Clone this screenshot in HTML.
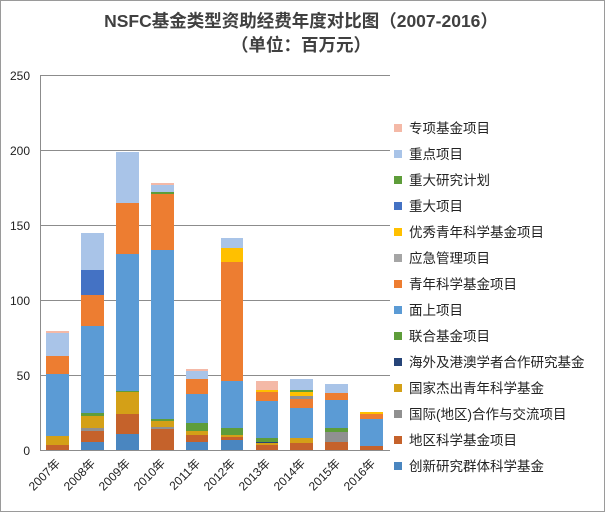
<!DOCTYPE html><html><head><meta charset="utf-8"><style>
body{margin:0;background:#fff}
svg{display:block;font-family:"Liberation Sans","Noto Sans CJK SC",sans-serif}
</style></head><body>
<svg width="605" height="512" xmlns="http://www.w3.org/2000/svg">
<rect x="0.5" y="0.5" width="604" height="511" fill="#fff" stroke="#9a9a9a"/>
<text x="301" y="27" text-anchor="middle" font-size="17.5" font-weight="bold" fill="#404040">NSFC基金类型资助经费年度对比图（2007-2016）</text>
<text x="301" y="51" text-anchor="middle" font-size="17.5" font-weight="bold" fill="#404040">（单位：百万元）</text>
<g stroke="#8c8c8c" stroke-width="1">
<line x1="40" y1="75.5" x2="390" y2="75.5"/><line x1="40" y1="150.5" x2="390" y2="150.5"/>
<line x1="40" y1="225.5" x2="390" y2="225.5"/><line x1="40" y1="300.5" x2="390" y2="300.5"/>
<line x1="40" y1="375.5" x2="390" y2="375.5"/><line x1="40" y1="450.5" x2="390" y2="450.5"/>
<line x1="40.5" y1="75" x2="40.5" y2="450"/>
</g>
<g font-size="12" fill="#222" text-anchor="end">
<text x="30" y="80">250</text><text x="30" y="155">200</text><text x="30" y="230">150</text>
<text x="30" y="305">100</text><text x="30" y="380">50</text><text x="30" y="455">0</text>
</g>
<g id="bars">
<rect x="46" y="445" width="23" height="5" fill="#c5622b"/>
<rect x="46" y="436" width="23" height="9" fill="#d4a017"/>
<rect x="46" y="374" width="23" height="62" fill="#5b9bd5"/>
<rect x="46" y="356" width="23" height="18" fill="#ed7d31"/>
<rect x="46" y="333" width="23" height="23" fill="#a9c4e8"/>
<rect x="46" y="331" width="23" height="2" fill="#f4b9a7"/>
<rect x="81" y="442" width="23" height="8" fill="#4a86c0"/>
<rect x="81" y="431" width="23" height="11" fill="#c5622b"/>
<rect x="81" y="428" width="23" height="3" fill="#909090"/>
<rect x="81" y="416" width="23" height="12" fill="#d4a017"/>
<rect x="81" y="413" width="23" height="3" fill="#5e9d3a"/>
<rect x="81" y="326" width="23" height="87" fill="#5b9bd5"/>
<rect x="81" y="295" width="23" height="31" fill="#ed7d31"/>
<rect x="81" y="270" width="23" height="25" fill="#4472c4"/>
<rect x="81" y="233" width="23" height="37" fill="#a9c4e8"/>
<rect x="116" y="434" width="23" height="16" fill="#4a86c0"/>
<rect x="116" y="414" width="23" height="20" fill="#c5622b"/>
<rect x="116" y="392" width="23" height="22" fill="#d4a017"/>
<rect x="116" y="391" width="23" height="1" fill="#5e9d3a"/>
<rect x="116" y="254" width="23" height="137" fill="#5b9bd5"/>
<rect x="116" y="203" width="23" height="51" fill="#ed7d31"/>
<rect x="116" y="152" width="23" height="51" fill="#a9c4e8"/>
<rect x="151" y="429" width="23" height="21" fill="#c5622b"/>
<rect x="151" y="427" width="23" height="2" fill="#909090"/>
<rect x="151" y="421" width="23" height="6" fill="#d4a017"/>
<rect x="151" y="419" width="23" height="2" fill="#5e9d3a"/>
<rect x="151" y="250" width="23" height="169" fill="#5b9bd5"/>
<rect x="151" y="194" width="23" height="56" fill="#ed7d31"/>
<rect x="151" y="192" width="23" height="2" fill="#5e9d3a"/>
<rect x="151" y="185" width="23" height="7" fill="#a9c4e8"/>
<rect x="151" y="183" width="23" height="2" fill="#f4b9a7"/>
<rect x="186" y="442" width="22" height="8" fill="#4a86c0"/>
<rect x="186" y="435" width="22" height="7" fill="#c5622b"/>
<rect x="186" y="431" width="22" height="4" fill="#d4a017"/>
<rect x="186" y="423" width="22" height="8" fill="#5e9d3a"/>
<rect x="186" y="394" width="22" height="29" fill="#5b9bd5"/>
<rect x="186" y="379" width="22" height="15" fill="#ed7d31"/>
<rect x="186" y="371" width="22" height="8" fill="#a9c4e8"/>
<rect x="186" y="369" width="22" height="2" fill="#f4b9a7"/>
<rect x="221" y="440" width="22" height="10" fill="#4a86c0"/>
<rect x="221" y="437" width="22" height="3" fill="#c5622b"/>
<rect x="221" y="435" width="22" height="2" fill="#d4a017"/>
<rect x="221" y="428" width="22" height="7" fill="#5e9d3a"/>
<rect x="221" y="381" width="22" height="47" fill="#5b9bd5"/>
<rect x="221" y="262" width="22" height="119" fill="#ed7d31"/>
<rect x="221" y="248" width="22" height="14" fill="#ffc000"/>
<rect x="221" y="238" width="22" height="10" fill="#a9c4e8"/>
<rect x="256" y="445" width="22" height="5" fill="#c5622b"/>
<rect x="256" y="443" width="22" height="2" fill="#d4a017"/>
<rect x="256" y="442" width="22" height="1" fill="#264478"/>
<rect x="256" y="438" width="22" height="4" fill="#5e9d3a"/>
<rect x="256" y="401" width="22" height="37" fill="#5b9bd5"/>
<rect x="256" y="392" width="22" height="9" fill="#ed7d31"/>
<rect x="256" y="390" width="22" height="2" fill="#ffc000"/>
<rect x="256" y="381" width="22" height="9" fill="#f4b9a7"/>
<rect x="290" y="443" width="23" height="7" fill="#c5622b"/>
<rect x="290" y="438" width="23" height="5" fill="#d4a017"/>
<rect x="290" y="408" width="23" height="30" fill="#5b9bd5"/>
<rect x="290" y="399" width="23" height="9" fill="#ed7d31"/>
<rect x="290" y="396" width="23" height="3" fill="#909090"/>
<rect x="290" y="392" width="23" height="4" fill="#ffc000"/>
<rect x="290" y="390" width="23" height="2" fill="#5e9d3a"/>
<rect x="290" y="379" width="23" height="11" fill="#a9c4e8"/>
<rect x="325" y="442" width="23" height="8" fill="#c5622b"/>
<rect x="325" y="432" width="23" height="10" fill="#909090"/>
<rect x="325" y="428" width="23" height="4" fill="#5e9d3a"/>
<rect x="325" y="400" width="23" height="28" fill="#5b9bd5"/>
<rect x="325" y="393" width="23" height="7" fill="#ed7d31"/>
<rect x="325" y="384" width="23" height="9" fill="#a9c4e8"/>
<rect x="360" y="446" width="23" height="4" fill="#c5622b"/>
<rect x="360" y="419" width="23" height="27" fill="#5b9bd5"/>
<rect x="360" y="414" width="23" height="5" fill="#ed7d31"/>
<rect x="360" y="412" width="23" height="2" fill="#ffc000"/>
</g>
<g font-size="12" fill="#222" text-anchor="end">
<text transform="translate(61,464) rotate(-45)">2007年</text>
<text transform="translate(96,464) rotate(-45)">2008年</text>
<text transform="translate(131,464) rotate(-45)">2009年</text>
<text transform="translate(166,464) rotate(-45)">2010年</text>
<text transform="translate(201,464) rotate(-45)">2011年</text>
<text transform="translate(236,464) rotate(-45)">2012年</text>
<text transform="translate(271,464) rotate(-45)">2013年</text>
<text transform="translate(306,464) rotate(-45)">2014年</text>
<text transform="translate(341,464) rotate(-45)">2015年</text>
<text transform="translate(376,464) rotate(-45)">2016年</text>
</g>
<g font-size="13.5" fill="#222">
<rect x="394" y="124" width="8" height="8" fill="#f4b9a7"/><text x="409" y="133">专项基金项目</text>
<rect x="394" y="150" width="8" height="8" fill="#a9c4e8"/><text x="409" y="159">重点项目</text>
<rect x="394" y="176" width="8" height="8" fill="#5e9d3a"/><text x="409" y="185">重大研究计划</text>
<rect x="394" y="202" width="8" height="8" fill="#4472c4"/><text x="409" y="211">重大项目</text>
<rect x="394" y="228" width="8" height="8" fill="#ffc000"/><text x="409" y="237">优秀青年科学基金项目</text>
<rect x="394" y="254" width="8" height="8" fill="#a5a5a5"/><text x="409" y="263">应急管理项目</text>
<rect x="394" y="280" width="8" height="8" fill="#ed7d31"/><text x="409" y="289">青年科学基金项目</text>
<rect x="394" y="306" width="8" height="8" fill="#5b9bd5"/><text x="409" y="315">面上项目</text>
<rect x="394" y="332" width="8" height="8" fill="#5e9d3a"/><text x="409" y="341">联合基金项目</text>
<rect x="394" y="358" width="8" height="8" fill="#264478"/><text x="409" y="367">海外及港澳学者合作研究基金</text>
<rect x="394" y="384" width="8" height="8" fill="#d4a017"/><text x="409" y="393">国家杰出青年科学基金</text>
<rect x="394" y="410" width="8" height="8" fill="#909090"/><text x="409" y="419">国际(地区)合作与交流项目</text>
<rect x="394" y="436" width="8" height="8" fill="#c5622b"/><text x="409" y="445">地区科学基金项目</text>
<rect x="394" y="462" width="8" height="8" fill="#4a86c0"/><text x="409" y="471">创新研究群体科学基金</text>
</g>
</svg>
</body></html>
